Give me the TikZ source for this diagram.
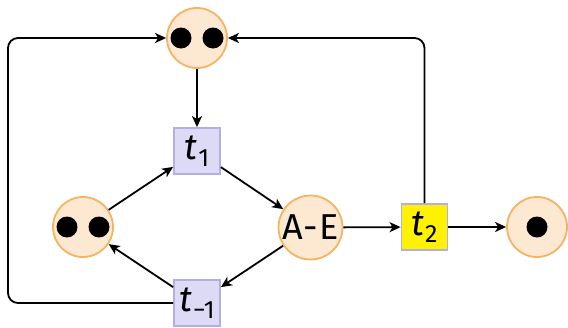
\documentclass[tikz,border=0pt]{standalone}
\usepackage{fontspec}
\setmainfont{Fira Sans}
\usetikzlibrary{arrows.meta}
\definecolor{placefill}{HTML}{FDE8D2}
\definecolor{placedraw}{HTML}{F5B461}
\definecolor{transfill}{HTML}{DCDAF4}
\definecolor{transdraw}{HTML}{B3AEE6}
\newcommand{\tsub}[1]{\textit{t}\kern1pt\raisebox{-7pt}{\fontsize{25}{25}\selectfont #1}}
\begin{document}
\begin{tikzpicture}[x=1pt,y=-1pt,
  place/.style={circle,draw=placedraw,fill=placefill,line width=1.8pt,minimum size=60pt,inner sep=0pt,font=\fontsize{36}{40}\selectfont},
  trans/.style={rectangle,draw=transdraw,fill=transfill,line width=1.8pt,minimum width=46pt,minimum height=46pt,inner sep=0pt,font=\fontsize{36}{40}\selectfont},
  token/.style={circle,fill=black,minimum size=21pt,inner sep=0pt},
  conn/.style={line width=1.8pt,-{Stealth[length=11pt,width=10pt,inset=3pt]}}]
\useasboundingbox (0,0) rectangle (568,327);
\node[place] (top) at (197,38) {};
\node[token] (tk1) at (181,38) {};
\node[token] (tk2) at (213,38) {};
\node[trans] (t1) at (197,151) {\tsub{1}};
\node[place] (left) at (83,227) {};
\node[token] (tk3) at (67,227) {};
\node[token] (tk4) at (99,227) {};
\node[place,minimum size=64pt] (ae) at (310.5,227.5) {A\kern1pt-\kern1pt E};
\node[trans] (tm1) at (197,303) {\tsub{\char"2212 1}};
\node[trans,fill=yellow] (t2) at (424.5,227) {\tsub{2}};
\node[place] (right) at (537,227) {};
\node[token] (tk5) at (537,227) {};
\coordinate (lb) at (8,303);
\coordinate (lt) at (8,38);
\coordinate (rt) at (424.5,38);
\draw[conn] (top) -- (t1);
\draw[conn] (left) -- (t1);
\draw[conn] (t1) -- (ae);
\draw[conn] (ae) -- (tm1);
\draw[conn] (tm1) -- (left);
\draw[conn] (ae) -- (t2);
\draw[conn] (t2) -- (right);
\draw[conn,rounded corners=10pt] (t2.north) -- (rt) -- (top.east);
\draw[conn,rounded corners=10pt] (tm1.west) -- (lb) -- (lt) -- (top.west);
\end{tikzpicture}
\end{document}
